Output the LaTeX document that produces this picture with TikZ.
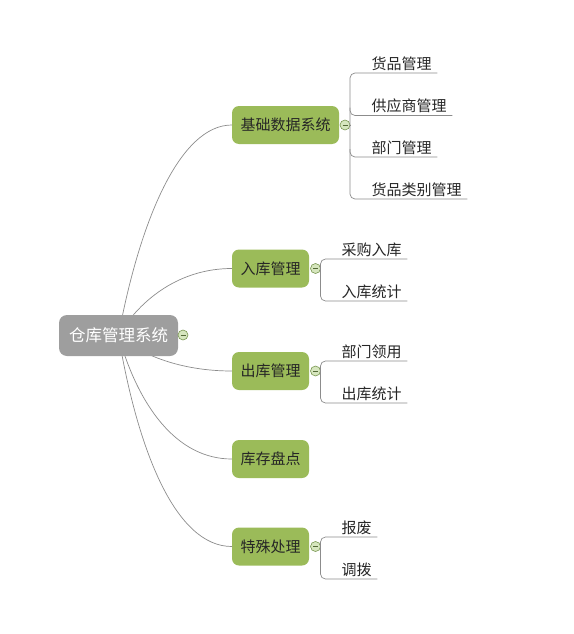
\documentclass[tikz,border=0pt]{standalone}
\usepackage{fontspec}
\setmainfont{Noto Sans CJK SC}
\usetikzlibrary{calc,backgrounds}

\definecolor{topicgreen}{RGB}{155,187,89}
\definecolor{rootgray}{RGB}{158,158,158}
\definecolor{linegray}{RGB}{140,140,140}
\definecolor{foldfill}{RGB}{214,230,190}
\definecolor{folddraw}{RGB}{120,150,80}

\begin{document}
\begin{tikzpicture}[x=1pt,y=-1pt,
    rootstyle/.style={fill=rootgray, text=white, rounded corners=8, minimum height=41, inner xsep=10, font=\fontsize{16.5}{18}\selectfont},
    topicstyle/.style={fill=topicgreen, text=black!85, rounded corners=7, minimum height=38, inner xsep=8.5, font=\fontsize{15}{17}\selectfont},
    leafstyle/.style={anchor=south west, inner xsep=5.5, inner ysep=2, text=black!85, font=\fontsize{15}{17}\selectfont},
    foldstyle/.style={circle, draw=folddraw, fill=foldfill, line width=0.6, minimum size=10, inner sep=0,
        path picture={\draw[folddraw!70!black, line width=0.8] ([xshift=2.5]path picture bounding box.west) -- ([xshift=-2.5]path picture bounding box.east);}},
    linkstyle/.style={draw=linegray, line width=0.7}]

    \useasboundingbox (0,0) rectangle (573,634);

    % root and main topics
    \node[rootstyle] (root) at (118.5,335.5) {仓库管理系统};
    \node[topicstyle] (jc) at (285.5,125) {基础数据系统};
    \node[topicstyle] (rk) at (270.5,268.5) {入库管理};
    \node[topicstyle] (ck) at (270.5,371) {出库管理};
    \node[topicstyle] (pd) at (270.5,459) {库存盘点};
    \node[topicstyle] (ts) at (270.5,546.5) {特殊处理};

    \node[foldstyle] (froot) at (183,335) {};
    \node[foldstyle] (fjc) at (345,125) {};
    \node[foldstyle] (frk) at (315.5,268.5) {};
    \node[foldstyle] (fck) at (315.5,371) {};
    \node[foldstyle] (fts) at (315.5,546.5) {};

    % curves from the root
    \begin{scope}[on background layer]
    \draw[linkstyle] (root.center) .. controls (140,220) and (180,125) .. (jc.west);
    \draw[linkstyle] (root.center) .. controls (141,298) and (181,268.5) .. (rk.west);
    \draw[linkstyle] (root.center) .. controls (141,355) and (181,371) .. (ck.west);
    \draw[linkstyle] (root.center) .. controls (138,405) and (176,459) .. (pd.west);
    \draw[linkstyle] (root.center) .. controls (138,452) and (176,546.5) .. (ts.west);
    \end{scope}

    % leaves
    \node[leafstyle] (jc1) at (366,73) {货品管理};
    \node[leafstyle] (jc2) at (366,115.5) {供应商管理};
    \node[leafstyle] (jc3) at (366,157) {部门管理};
    \node[leafstyle] (jc4) at (366,199) {货品类别管理};

    \node[leafstyle] (rk1) at (336,259) {采购入库};
    \node[leafstyle] (rk2) at (336,301) {入库统计};

    \node[leafstyle] (ck1) at (336,361) {部门领用};
    \node[leafstyle] (ck2) at (336,403) {出库统计};

    \node[leafstyle] (ts1) at (336,537) {报废};
    \node[leafstyle] (ts2) at (336,579) {调拨};

    % brackets
    \coordinate (jjc) at (350,125);
    \coordinate (jrk) at (320.5,268.5);
    \coordinate (jck) at (320.5,371);
    \coordinate (jts) at (320.5,546.5);

    \draw[linkstyle] (fjc.east) -- (jjc);
    \draw[linkstyle, rounded corners=5] (jc1.south east) -- (jc1.south west -| jjc) -- (jc4.south west -| jjc) -- (jc4.south east);
    \draw[linkstyle, rounded corners=5] ($(jc2.south west -| jjc)+(0,-8)$) -- (jc2.south west -| jjc) -- (jc2.south east);
    \draw[linkstyle, rounded corners=5] ($(jc3.south west -| jjc)+(0,-8)$) -- (jc3.south west -| jjc) -- (jc3.south east);

    \draw[linkstyle, rounded corners=5] (rk1.south east) -- (rk1.south west -| jrk) -- (rk2.south west -| jrk) -- (rk2.south east);
    \draw[linkstyle, rounded corners=5] (ck1.south east) -- (ck1.south west -| jck) -- (ck2.south west -| jck) -- (ck2.south east);
    \draw[linkstyle, rounded corners=5] (ts1.south east) -- (ts1.south west -| jts) -- (ts2.south west -| jts) -- (ts2.south east);

\end{tikzpicture}
\end{document}
